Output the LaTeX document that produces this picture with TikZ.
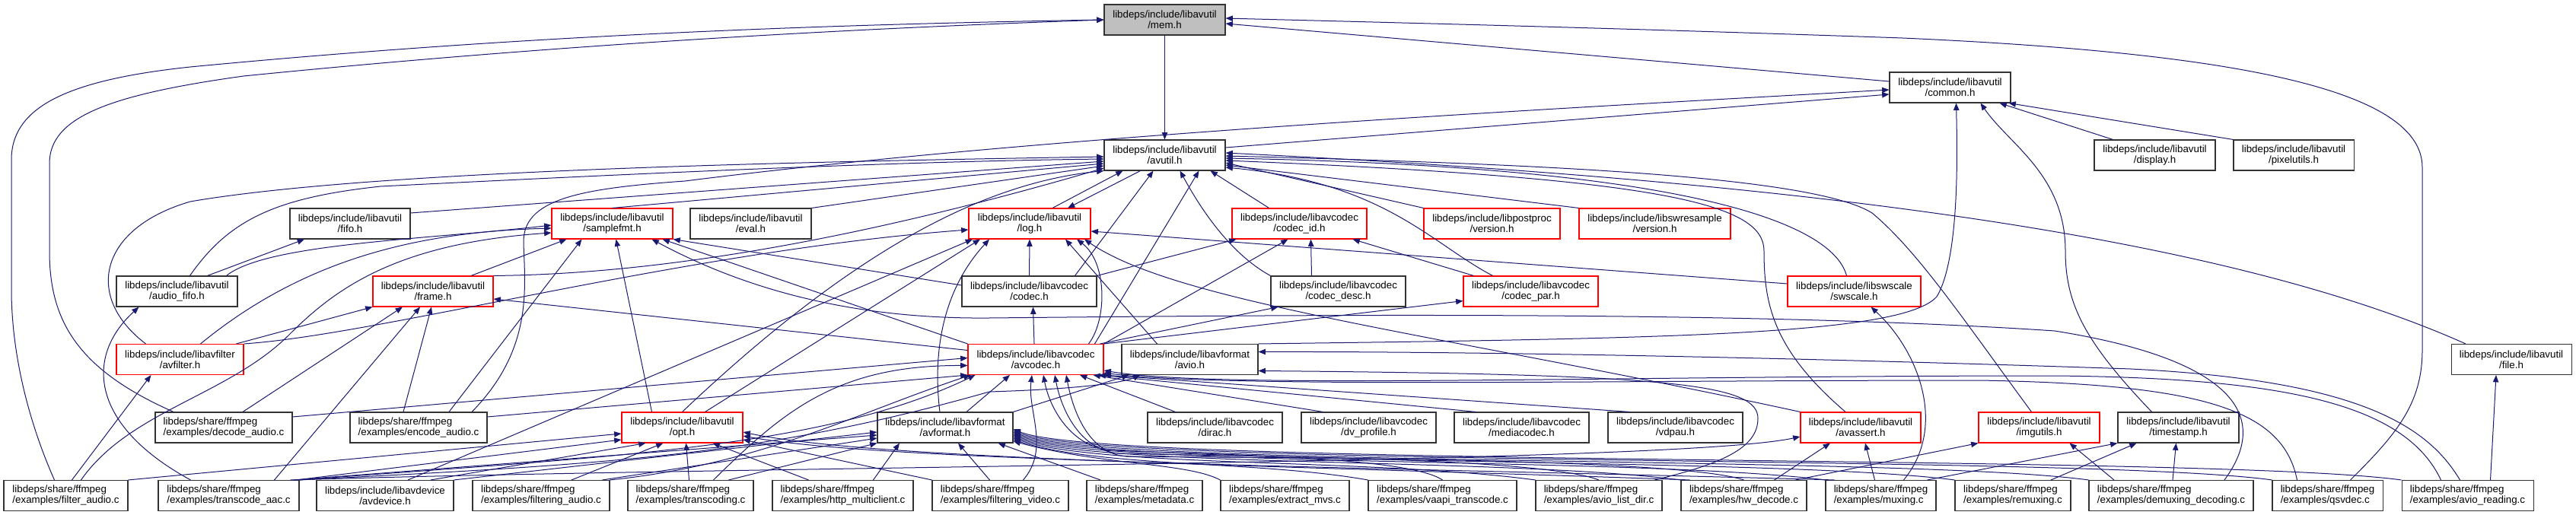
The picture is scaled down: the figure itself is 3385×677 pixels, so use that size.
\documentclass[tikz,border=0pt]{standalone}
\usepackage{fontspec}
\setmainfont{Liberation Sans}
\usetikzlibrary{arrows.meta}
\definecolor{edgeblue}{RGB}{25,25,112}
\definecolor{selgray}{RGB}{191,191,191}

\tikzset{
  hdr/.style={draw=black!80, line width=0.8pt, fill=white, minimum height=30pt, inner sep=0pt, align=center, font=\fontsize{10}{10.5}\selectfont},
  hdrred/.style={hdr, draw=red},
  exfile/.style={hdr, align=left},
  bw/.style={minimum width=#1*0.75pt},
  dep/.style={edgeblue, line width=0.75pt, -{Triangle[length=7pt,width=5.5pt]}},
}

\begin{document}
\begin{tikzpicture}[x=0.75pt,y=-0.75pt]
\useasboundingbox (0,0) rectangle (3385,677);

% headers
\node[hdr, bw=159, fill=selgray] (memh) at (1530.5,26) {libdeps/include/libavutil\\/mem.h};
\node[hdr, bw=159] (commonh) at (2562.5,115) {libdeps/include/libavutil\\/common.h};
\node[hdr, bw=159] (avutilh) at (1530.5,204) {libdeps/include/libavutil\\/avutil.h};
\node[hdr, bw=159] (displayh) at (2831.5,204) {libdeps/include/libavutil\\/display.h};
\node[hdr, bw=158] (pixelutilsh) at (3014,204) {libdeps/include/libavutil\\/pixelutils.h};
\node[hdr, bw=158] (fifoh) at (460,294) {libdeps/include/libavutil\\/fifo.h};
\node[hdrred, bw=159] (samplefmth) at (804.5,294) {libdeps/include/libavutil\\/samplefmt.h};
\node[hdr, bw=159] (evalh) at (986.5,294) {libdeps/include/libavutil\\/eval.h};
\node[hdrred, bw=160] (logh) at (1353,294) {libdeps/include/libavutil\\/log.h};
\node[hdrred, bw=177] (codecidh) at (1707.5,294) {libdeps/include/libavcodec\\/codec\_id.h};
\node[hdrred, bw=179] (ppversionh) at (1960.5,294) {libdeps/include/libpostproc\\/version.h};
\node[hdrred, bw=199] (swrversionh) at (2174.5,294) {libdeps/include/libswresample\\/version.h};
\node[hdr, bw=159] (audiofifoh) at (232.5,383) {libdeps/include/libavutil\\/audio\_fifo.h};
\node[hdrred, bw=158] (frameh) at (569,383) {libdeps/include/libavutil\\/frame.h};
\node[hdr, bw=177] (codech) at (1352.5,383) {libdeps/include/libavcodec\\/codec.h};
\node[hdr, bw=177] (codecdesch) at (1758.5,383) {libdeps/include/libavcodec\\/codec\_desc.h};
\node[hdrred, bw=177] (codecparh) at (2011.5,383) {libdeps/include/libavcodec\\/codec\_par.h};
\node[hdrred, bw=175] (swscaleh) at (2436.5,383) {libdeps/include/libswscale\\/swscale.h};
\node[hdrred, bw=167] (avfilterh) at (236.5,472.5) {libdeps/include/libavfilter\\/avfilter.h};
\node[hdrred, bw=178] (avcodech) at (1361,472.5) {libdeps/include/libavcodec\\/avcodec.h};
\node[hdr, bw=179] (avioh) at (1563.5,472.5) {libdeps/include/libavformat\\/avio.h};
\node[hdr, bw=158] (fileh) at (3300,472.5) {libdeps/include/libavutil\\/file.h};
\node[hdrred, bw=159] (opth) at (896.5,562) {libdeps/include/libavutil\\/opt.h};
\node[hdr, bw=178] (avformath) at (1242,562) {libdeps/include/libavformat\\/avformat.h};
\node[hdr, bw=177] (dirach) at (1596.5,562) {libdeps/include/libavcodec\\/dirac.h};
\node[hdr, bw=177] (dvprofileh) at (1798.5,562) {libdeps/include/libavcodec\\/dv\_profile.h};
\node[hdr, bw=177] (mediacodech) at (1999.5,562) {libdeps/include/libavcodec\\/mediacodec.h};
\node[hdr, bw=177] (vdpauh) at (2201.5,562) {libdeps/include/libavcodec\\/vdpau.h};
\node[hdrred, bw=158] (avasserth) at (2445,562) {libdeps/include/libavutil\\/avassert.h};
\node[hdrred, bw=159] (imgutilsh) at (2679.5,562) {libdeps/include/libavutil\\/imgutils.h};
\node[hdr, bw=159] (timestamph) at (2862.5,562) {libdeps/include/libavutil\\/timestamp.h};
\node[hdr, bw=180] (avdeviceh) at (506,651.5) {libdeps/include/libavdevice\\/avdevice.h};

% examples
\node[exfile, bw=180] (decodeaudio) at (294,562) {libdeps/share/ffmpeg\\/examples/decode\_audio.c};
\node[exfile, bw=180] (encodeaudio) at (550,562) {libdeps/share/ffmpeg\\/examples/encode\_audio.c};
\node[exfile, bw=163] (filteraudio) at (86.5,651.5) {libdeps/share/ffmpeg\\/examples/filter\_audio.c};
\node[exfile, bw=185] (transcodeaac) at (300.5,651.5) {libdeps/share/ffmpeg\\/examples/transcode\_aac.c};
\node[exfile, bw=180] (filteringaudio) at (711,651.5) {libdeps/share/ffmpeg\\/examples/filtering\_audio.c};
\node[exfile, bw=165] (transcoding) at (907.5,651.5) {libdeps/share/ffmpeg\\/examples/transcoding.c};
\node[exfile, bw=185] (httpmulticlient) at (1107.5,651.5) {libdeps/share/ffmpeg\\/examples/http\_multiclient.c};
\node[exfile, bw=179] (filteringvideo) at (1314.5,651.5) {libdeps/share/ffmpeg\\/examples/filtering\_video.c};
\node[exfile, bw=152] (metadata) at (1504,651.5) {libdeps/share/ffmpeg\\/examples/metadata.c};
\node[exfile, bw=169] (extractmvs) at (1688.5,651.5) {libdeps/share/ffmpeg\\/examples/extract\_mvs.c};
\node[exfile, bw=195] (vaapitranscode) at (1895.5,651.5) {libdeps/share/ffmpeg\\/examples/vaapi\_transcode.c};
\node[exfile, bw=166] (aviolistdir) at (2101,651.5) {libdeps/share/ffmpeg\\/examples/avio\_list\_dir.c};
\node[exfile, bw=165] (hwdecode) at (2291.5,651.5) {libdeps/share/ffmpeg\\/examples/hw\_decode.c};
\node[exfile, bw=145] (muxing) at (2471.5,651.5) {libdeps/share/ffmpeg\\/examples/muxing.c};
\node[exfile, bw=152] (remuxing) at (2645,651.5) {libdeps/share/ffmpeg\\/examples/remuxing.c};
\node[exfile, bw=216] (demuxingdecoding) at (2853,651.5) {libdeps/share/ffmpeg\\/examples/demuxing\_decoding.c};
\node[exfile, bw=145] (qsvdec) at (3058.5,651.5) {libdeps/share/ffmpeg\\/examples/qsvdec.c};
\node[exfile, bw=173] (avioreading) at (3242.5,651.5) {libdeps/share/ffmpeg\\/examples/avio\_reading.c};

% into mem.h and common.h
\draw[dep] ([shift={(-15,0)}]filteraudio.north) .. controls (40,560) and (15,470) .. (15,380) -- (15,210) .. controls (15,140) and (90,105) .. (250,88) .. controls (700,45) and (1100,32) .. (memh.west);
\draw[dep] ([shift={(-66,0)}]decodeaudio.north) .. controls (100,485) and (65,420) .. (65,330) -- (65,215) .. controls (65,155) and (140,125) .. (320,100) .. controls (800,52) and (1200,35) .. (memh.west);
\draw[dep] ([shift={(0,-8)}]commonh.west) -- ([shift={(0,5)}]memh.east);
\draw[dep] ([shift={(30,0)}]qsvdec.north) .. controls (3150,570) and (3183,530) .. (3183,460) -- (3183,220) .. controls (3183,120) and (2950,70) .. (2500,50) .. controls (2100,36) and (1800,29) .. ([shift={(0,-2)}]memh.east);
\draw[dep] (memh) -- (avutilh);
\draw[dep] ([shift={(0,-10)}]avutilh.east) -- ([shift={(0,9)}]commonh.west);
\draw[dep] ([shift={(70,0)}]encodeaudio.north) .. controls (700,460) and (690,380) .. (688,320) .. controls (686,262) and (760,248) .. (900,238) .. controls (1400,175) and (2100,140) .. ([shift={(0,3)}]commonh.west);
\draw[dep] ([shift={(-55,0)}]displayh.north) -- ([shift={(65,0)}]commonh.south);
\draw[dep] (pixelutilsh.north west) -- ([shift={(-3,0)}]commonh.south east);
\draw[dep] ([shift={(-35,0)}]timestamph.north) .. controls (2740,450) and (2714,400) .. (2714,330) .. controls (2714,230) and (2640,190) .. ([shift={(40,0)}]commonh.south);
\draw[dep] (avioh.north east) .. controls (2200,445) and (2500,440) .. (2545,390) .. controls (2575,340) and (2572,200) .. ([shift={(8,0)}]commonh.south);

% into avutil.h
\draw[dep] ([shift={(30,0)}]logh.north) -- ([shift={(-55,0)}]avutilh.south);
\draw[dep] ([shift={(-45,0)}]avfilterh.north) .. controls (110,390) and (130,300) .. (250,265) .. controls (500,222) and (1100,212) .. ([shift={(0,2)}]avutilh.west);
\draw[dep] ([shift={(17,0)}]audiofifoh.north) .. controls (300,290) and (360,260) .. (500,245) .. controls (900,225) and (1200,212) .. ([shift={(0,5)}]avutilh.west);
\draw[dep] ([shift={(0,-14)}]fifoh.east) -- ([shift={(0,8)}]avutilh.west);
\draw[dep] (samplefmth.north) -- ([shift={(0,11)}]avutilh.west);
\draw[dep] (evalh.north east) -- ([shift={(0,14)}]avutilh.west);
\draw[dep] (frameh.north east) .. controls (900,360) and (1180,300) .. ([shift={(0,17)}]avutilh.west);
\draw[dep] (opth.north) .. controls (1130,320) and (1300,240) .. (avutilh.south west);
\draw[dep] ([shift={(60,0)}]codech.north) -- ([shift={(-15,0)}]avutilh.south);
\draw[dep] ([shift={(-12,0)}]avcodech.north east) -- ([shift={(45,0)}]avutilh.south);
\draw[dep] (codecdesch.north west) .. controls (1610,330) and (1570,260) .. ([shift={(20,0)}]avutilh.south);
\draw[dep] ([shift={(-40,0)}]codecidh.north) -- ([shift={(60,0)}]avutilh.south);
\draw[dep] (ppversionh.north west) -- ([shift={(0,10)}]avutilh.east);
\draw[dep] (swrversionh.north west) -- ([shift={(0,13)}]avutilh.east);
\draw[dep] ([shift={(-50,0)}]codecparh.north) .. controls (1880,320) and (1820,240) .. ([shift={(0,16)}]avutilh.east);
\draw[dep] ([shift={(-10,0)}]swscaleh.north) .. controls (2410,300) and (2250,220) .. ([shift={(0,4)}]avutilh.east);
\draw[dep] ([shift={(-20,0)}]avasserth.north) .. controls (2330,460) and (2318,400) .. (2318,330) .. controls (2318,270) and (2200,235) .. ([shift={(0,7)}]avutilh.east);
\draw[dep] ([shift={(-10,0)}]imgutilsh.north) .. controls (2580,420) and (2520,330) .. (2460,280) .. controls (2380,230) and (2000,215) .. ([shift={(0,1)}]avutilh.east);
\draw[dep] ([shift={(-60,0)}]fileh.north) .. controls (2900,300) and (2300,235) .. ([shift={(0,-3)}]avutilh.east);

% into log.h
\draw[dep] ([shift={(-32,0)}]avutilh.south) -- ([shift={(50,0)}]logh.north);
\draw[dep] (codech.north) -- (logh.south);
\draw[dep] ([shift={(-20,0)}]avcodech.north east) .. controls (1455,420) and (1455,345) .. ([shift={(62,0)}]logh.south);
\draw[dep] ([shift={(-43,0)}]avioh.north) -- ([shift={(47,0)}]logh.south);
\draw[dep] ([shift={(-7,0)}]avformath.north) .. controls (1225,460) and (1240,380) .. ([shift={(-53,0)}]logh.south);
\draw[dep] ([shift={(30,0)}]opth.north) -- ([shift={(-65,0)}]logh.south);
\draw[dep] ([shift={(30,0)}]avdeviceh.north) -- ([shift={(-75,0)}]logh.south);
\draw[dep] (avfilterh.north east) .. controls (500,440) and (900,330) .. ([shift={(0,8)}]logh.west);
\draw[dep] ([shift={(0,-10)}]swscaleh.west) -- ([shift={(0,10)}]logh.east);
\draw[dep] (avasserth.north west) .. controls (1900,440) and (1550,400) .. ([shift={(72,0)}]logh.south);

% into samplefmt.h, frame.h, fifo.h, audio_fifo.h, avfilter.h
\draw[dep] ([shift={(50,0)}]frameh.north) -- ([shift={(-60,0)}]samplefmth.south);
\draw[dep] ([shift={(-40,0)}]opth.north) -- ([shift={(5,0)}]samplefmth.south);
\draw[dep] ([shift={(40,0)}]encodeaudio.north) -- ([shift={(-40,0)}]samplefmth.south);
\draw[dep] ([shift={(65,0)}]audiofifoh.north) .. controls (350,320) and (560,315) .. ([shift={(0,2)}]samplefmth.west);
\draw[dep] ([shift={(27,0)}]avfilterh.north) .. controls (400,340) and (550,305) .. ([shift={(0,6)}]samplefmth.west);
\draw[dep] ([shift={(20,0)}]filteraudio.north) .. controls (170,540) and (300,520) .. (380,440) .. controls (440,380) and (520,320) .. ([shift={(0,12)}]samplefmth.west);
\draw[dep] ([shift={(0,-8)}]codech.west) -- (samplefmth.south east);
\draw[dep] (avcodech.north west) -- ([shift={(-14,0)}]samplefmth.south east);
\draw[dep] ([shift={(70,0)}]demuxingdecoding.north) .. controls (2990,540) and (2920,470) .. (2700,435) .. controls (2300,408) and (1700,414) .. (1300,418) .. controls (1100,420) and (960,370) .. ([shift={(-28,0)}]samplefmth.south east);
\draw[dep] ([shift={(-10,0)}]avfilterh.north east) -- (frameh.south west);
\draw[dep] ([shift={(25,0)}]decodeaudio.north) -- ([shift={(-40,0)}]frameh.south);
\draw[dep] ([shift={(60,0)}]transcodeaac.north) -- ([shift={(-17,0)}]frameh.south);
\draw[dep] ([shift={(-20,0)}]encodeaudio.north) -- ([shift={(-2,0)}]frameh.south);
\draw[dep] ([shift={(0,-12)}]avcodech.west) -- ([shift={(0,10)}]frameh.east);
\draw[dep] ([shift={(40,0)}]audiofifoh.north) -- ([shift={(-60,0)}]fifoh.south);
\draw[dep] ([shift={(-50,0)}]transcodeaac.north) .. controls (120,560) and (110,470) .. ([shift={(-50,0)}]audiofifoh.south);
\draw[dep] ([shift={(8,0)}]filteraudio.north) -- ([shift={(-38,0)}]avfilterh.south);

% libavcodec headers
\draw[dep] ([shift={(-2,0)}]avcodech.north) -- ([shift={(5,0)}]codech.south);
\draw[dep] (codech.north east) -- ([shift={(-83,0)}]codecidh.south);
\draw[dep] ([shift={(-35,0)}]codecdesch.north) -- ([shift={(15,0)}]codecidh.south);
\draw[dep] ([shift={(-75,0)}]codecparh.north) -- ([shift={(70,0)}]codecidh.south);
\draw[dep] (avcodech.north east) -- ([shift={(-15,0)}]codecidh.south);
\draw[dep] ([shift={(-5,0)}]avcodech.north east) -- ([shift={(10,0)}]codecdesch.south west);
\draw[dep] (avcodech.north east) -- ([shift={(0,-8)}]codecparh.south west);

% into avio.h
\draw[dep] (avformath.north east) -- ([shift={(-80,0)}]avioh.south);
\draw[dep] (transcodeaac.north east) .. controls (800,610) and (1000,600) .. (1300,515) .. controls (1400,512) and (1470,505) .. ([shift={(-65,0)}]avioh.south);
\draw[dep] ([shift={(-10,0)}]aviolistdir.north east) .. controls (2260,610) and (2310,590) .. (2310,550) .. controls (2310,505) and (2200,492) .. ([shift={(0,15)}]avioh.east);
\draw[dep] ([shift={(-10,0)}]avioreading.north) .. controls (3190,560) and (3100,500) .. (2800,485) .. controls (2300,468) and (1900,462) .. ([shift={(0,-10)}]avioh.east);

% into avcodec.h
\draw[dep] ([shift={(28,0)}]avformath.north) -- ([shift={(-34,0)}]avcodech.south);
\draw[dep] ([shift={(-52,0)}]dirach.north) -- ([shift={(58,0)}]avcodech.south);
\draw[dep] ([shift={(-60,0)}]dvprofileh.north) -- ([shift={(-14,0)}]avcodech.south east);
\draw[dep] ([shift={(-60,0)}]mediacodech.north) -- ([shift={(-7,0)}]avcodech.south east);
\draw[dep] ([shift={(-60,0)}]vdpauh.north) -- (avcodech.south east);
\draw[dep] ([shift={(0,-14)}]decodeaudio.east) -- ([shift={(0,-2)}]avcodech.west);
\draw[dep] ([shift={(0,-14)}]encodeaudio.east) -- (avcodech.south west);
\draw[dep] (transcodeaac.north east) .. controls (800,600) and (1080,590) .. ([shift={(10,0)}]avcodech.south west);
\draw[dep] (filteringaudio.north east) .. controls (1000,610) and (1120,545) .. ([shift={(4,0)}]avcodech.south west);
\draw[dep] ([shift={(30,0)}]transcoding.north) .. controls (1030,540) and (1100,480) .. ([shift={(0,8)}]avcodech.west);
\draw[dep] ([shift={(30,0)}]filteringvideo.north) .. controls (1380,590) and (1350,540) .. ([shift={(-5,0)}]avcodech.south);
\draw[dep] (vaapitranscode.north) .. controls (1850,600) and (1600,598) .. (1460,592) .. controls (1410,588) and (1380,540) .. ([shift={(10,0)}]avcodech.south);
\draw[dep] (aviolistdir.north) .. controls (2020,600) and (1600,600) .. (1470,596) .. controls (1420,592) and (1395,540) .. ([shift={(25,0)}]avcodech.south);
\draw[dep] (hwdecode.north) .. controls (2200,600) and (1600,602) .. (1480,600) .. controls (1430,596) and (1410,540) .. ([shift={(40,0)}]avcodech.south);
\draw[dep] ([shift={(-40,0)}]qsvdec.north) .. controls (3000,540) and (2900,505) .. (2600,500) .. controls (2100,500) and (1600,510) .. ([shift={(0,-3)}]avcodech.south east);
\draw[dep] ([shift={(-35,0)}]avioreading.north) .. controls (3160,530) and (3000,497) .. (2700,494) .. controls (2100,494) and (1600,512) .. ([shift={(0,-6)}]avcodech.south east);

% into avformat.h
\draw[dep] (avdeviceh.north east) -- ([shift={(0,6)}]avformath.west);
\draw[dep] ([shift={(-8,0)}]transcodeaac.north east) -- ([shift={(0,10)}]avformath.west);
\draw[dep] ([shift={(-10,0)}]filteringaudio.north east) -- ([shift={(0,14)}]avformath.west);
\draw[dep] ([shift={(50,0)}]transcoding.north) -- (avformath.south west);
\draw[dep] ([shift={(40,0)}]httpmulticlient.north) -- ([shift={(-60,0)}]avformath.south);
\draw[dep] ([shift={(-14,0)}]filteringvideo.north) -- ([shift={(17,0)}]avformath.south);
\draw[dep] ([shift={(-58,0)}]metadata.north) -- ([shift={(-20,0)}]avformath.south east);
\draw[dep] (extractmvs.north west) .. controls (1560,608) and (1450,612) .. ([shift={(0,18)}]avformath.east);
\draw[dep] (vaapitranscode.north west) .. controls (1650,605) and (1450,615) .. ([shift={(0,16)}]avformath.east);
\draw[dep] (aviolistdir.north west) .. controls (1800,602) and (1450,615) .. ([shift={(0,14)}]avformath.east);
\draw[dep] (hwdecode.north west) .. controls (1970,601) and (1450,615) .. ([shift={(0,12)}]avformath.east);
\draw[dep] (muxing.north west) .. controls (2150,600) and (1450,615) .. ([shift={(0,10)}]avformath.east);
\draw[dep] (remuxing.north west) .. controls (2320,599) and (1450,615) .. ([shift={(0,8)}]avformath.east);
\draw[dep] (demuxingdecoding.north west) .. controls (2500,598) and (1450,615) .. ([shift={(0,6)}]avformath.east);
\draw[dep] (qsvdec.north west) .. controls (2740,597) and (1450,615) .. ([shift={(0,4)}]avformath.east);
\draw[dep] (avioreading.north west) .. controls (2900,596) and (1450,615) .. ([shift={(0,2)}]avformath.east);

% into opt.h
\draw[dep] (filteraudio.north east) -- ([shift={(0,8)}]opth.west);
\draw[dep] ([shift={(-4,0)}]transcodeaac.north east) -- ([shift={(0,16)}]opth.west);
\draw[dep] ([shift={(60,0)}]avdeviceh.north) -- ([shift={(-48,0)}]opth.south);
\draw[dep] ([shift={(40,0)}]filteringaudio.north) -- ([shift={(-25,0)}]opth.south);
\draw[dep] ([shift={(-2,0)}]transcoding.north) -- ([shift={(5,0)}]opth.south);
\draw[dep] ([shift={(-45,0)}]httpmulticlient.north) -- ([shift={(40,0)}]opth.south);
\draw[dep] (filteringvideo.north west) -- ([shift={(0,16)}]opth.east);
\draw[dep] ([shift={(12,0)}]hwdecode.north west) .. controls (1700,612) and (1150,605) .. ([shift={(0,6)}]opth.east);
\draw[dep] ([shift={(12,0)}]muxing.north west) .. controls (1800,614) and (1160,607) .. ([shift={(0,11)}]opth.east);

% avassert.h, imgutils.h, timestamp.h, swscale.h, file.h
\draw[dep] ([shift={(-12,0)}]transcodeaac.north east) .. controls (1000,612) and (2200,610) .. ([shift={(0,12)}]avasserth.west);
\draw[dep] ([shift={(40,0)}]hwdecode.north) -- ([shift={(-40,0)}]avasserth.south);
\draw[dep] ([shift={(-8,0)}]muxing.north) -- ([shift={(6,0)}]avasserth.south);
\draw[dep] ([shift={(-15,0)}]hwdecode.north east) -- (imgutilsh.south west);
\draw[dep] ([shift={(-75,0)}]demuxingdecoding.north) -- ([shift={(40,0)}]imgutilsh.south);
\draw[dep] ([shift={(-12,0)}]muxing.north east) -- (timestamph.south west);
\draw[dep] ([shift={(50,0)}]remuxing.north) -- ([shift={(-55,0)}]timestamph.south);
\draw[dep] ([shift={(2,0)}]demuxingdecoding.north) -- ([shift={(-3,0)}]timestamph.south);
\draw[dep] ([shift={(30,0)}]muxing.north) .. controls (2560,560) and (2520,460) .. ([shift={(22,0)}]swscaleh.south);
\draw[dep] ([shift={(30,0)}]avioreading.north) -- ([shift={(-20,0)}]fileh.south);
\end{tikzpicture}
\end{document}
